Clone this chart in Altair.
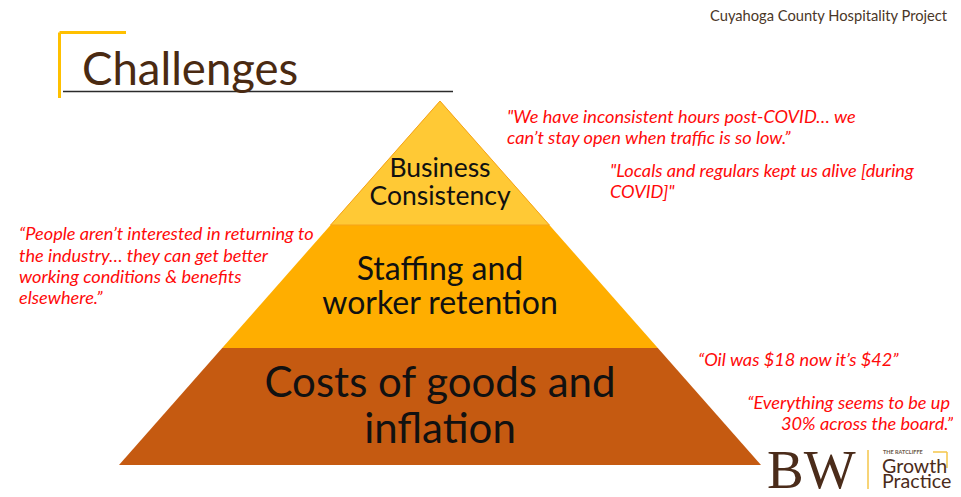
import altair as alt
import pandas as pd

# ---------------- data ----------------
layer_names = ["Business Consistency", "Staffing and worker retention", "Costs of goods and inflation"]
layer_colors = ["#FFC935", "#FFAE00", "#C55A11"]
layer_bounds = [101, 225, 348, 465]          # y of apex, two dividers, base
apex_x, base_half = 440, 321

label_lines = ["Business", "Consistency", "Staffing and", "worker retention", "Costs of goods and", "inflation"]
label_y = [177, 205, 280, 314, 397, 443]
label_size = [26.5, 26.5, 32, 32, 42, 42]

quote_left_lines = [
    "\"We have inconsistent hours post-COVID\u2026 we",
    "can\u2019t stay open when traffic is so low.\u201d",
    "\"Locals and regulars kept us alive [during",
    "COVID]\"",
    "\u201cPeople aren\u2019t interested in returning to",
    "the industry\u2026 they can get better",
    "working conditions & benefits",
    "elsewhere.\u201d",
    "\u201cOil was $18 now it\u2019s $42\u201d",
]
quote_left_x = [507, 507, 610, 610, 19, 19, 19, 19, 698]
quote_left_y = [123, 144, 177, 198, 240, 262, 283, 304, 366]

quote_right_lines = ["\u201cEverything seems to be up", "30% across the board.\u201d"]
quote_right_x = [950, 953]
quote_right_y = [409, 430]

title_text = "Challenges"
header_text = "Cuyahoga County Hospitality Project"

# ---------------- tables ----------------
rows = []
for i, name in enumerate(layer_names):
    for yy in (layer_bounds[i], layer_bounds[i + 1]):
        hw = base_half * (yy - layer_bounds[0]) / (layer_bounds[-1] - layer_bounds[0])
        rows.append(dict(layer=name, y=yy, xl=apex_x - hw, xr=apex_x + hw, color=layer_colors[i]))
pyr = pd.DataFrame(rows)

labels = pd.DataFrame(dict(text=label_lines, x=[apex_x] * 6, y=label_y, size=label_size))
ql = pd.DataFrame(dict(text=quote_left_lines, x=quote_left_x, y=quote_left_y))
qr = pd.DataFrame(dict(text=quote_right_lines, x=quote_right_x, y=quote_right_y))

xs = alt.Scale(domain=[8, 953], nice=False, zero=False)
ys = alt.Scale(domain=[8, 489], reverse=True, nice=False, zero=False)
X = lambda f: alt.X(f, type="quantitative", scale=xs, axis=None)
Y = lambda f: alt.Y(f, type="quantitative", scale=ys, axis=None)

base = alt.Chart(pyr)
areas = base.mark_area(orient="horizontal").encode(
    y=Y("y"), x=X("xl"), x2="xr", color=alt.Color("color:N", scale=None), detail="layer:N")
top_outline = alt.Chart(pyr[pyr.layer == layer_names[0]]).mark_area(
    orient="horizontal", fill="#FFC935", stroke="#F5A31A", strokeWidth=1).encode(
    y=Y("y"), x=X("xl"), x2="xr")

lab = alt.Chart(labels).mark_text(font="Lato", align="center", baseline="alphabetic", color="#111111").encode(
    x=X("x"), y=Y("y"), text="text:N", size=alt.Size("size:Q", scale=None))

qleft = alt.Chart(ql).mark_text(font="Lato", fontStyle="italic", fontSize=18.2, align="left",
                                baseline="alphabetic", color="#FF0A0A").encode(x=X("x"), y=Y("y"), text="text:N")
qright = alt.Chart(qr).mark_text(font="Lato", fontStyle="italic", fontSize=18.2, align="right",
                                 baseline="alphabetic", color="#FF0A0A").encode(x=X("x"), y=Y("y"), text="text:N")

# decorations
deco = pd.DataFrame(dict(
    x=[59.5, 59.5, 63, 868, 933, 947],
    x2=[126, 59.5, 453, 868, 947, 947],
    y=[32.5, 32.5, 91.5, 450, 452, 452],
    y2=[32.5, 98, 91.5, 489, 452, 468],
    c=["#FFC000", "#FFC000", "#2B2B2B", "#F5C64A", "#F5C64A", "#F5C64A"],
    w=[3, 3, 1.5, 1.5, 1.5, 1.5],
))
rules = alt.Chart(deco).mark_rule().encode(
    x=X("x"), x2="x2", y=Y("y"), y2="y2",
    color=alt.Color("c:N", scale=None), strokeWidth=alt.StrokeWidth("w:Q", scale=None))

misc = pd.DataFrame(dict(
    text=[title_text, header_text, "BW", "THE RATCLIFFE", "Growth", "Practice"],
    x=[82, 710, 767, 883, 882, 882],
    y=[85, 21, 488, 454, 473, 488],
))
def one(i, **kw):
    return alt.Chart(misc.iloc[[i]]).mark_text(align="left", baseline="alphabetic", **kw).encode(
        x=X("x"), y=Y("y"), text="text:N")

title = one(0, font="Lato", fontSize=45.5, color="#4A2A12")
header = one(1, font="Lato", fontSize=14.7, color="#4A3728")
bw = one(2, font="Liberation Serif", fontSize=55, color="#4B2C1A")
ratc = one(3, font="Lato", fontSize=5.5, fontWeight="bold", color="#6B5848")
growth = one(4, font="Lato", fontSize=19.6, color="#4B2C1A")
practice = one(5, font="Lato", fontSize=19.6, color="#4B2C1A")

chart = alt.layer(areas, top_outline, lab, qleft, qright, rules, title, header, bw, ratc, growth, practice).properties(
    width=945, height=481, padding=0, autosize=alt.AutoSizeParams(type="none"), background="white"
).configure_view(stroke=None)

chart.save("out.html", embed_options={"renderer": "svg", "actions": False})
